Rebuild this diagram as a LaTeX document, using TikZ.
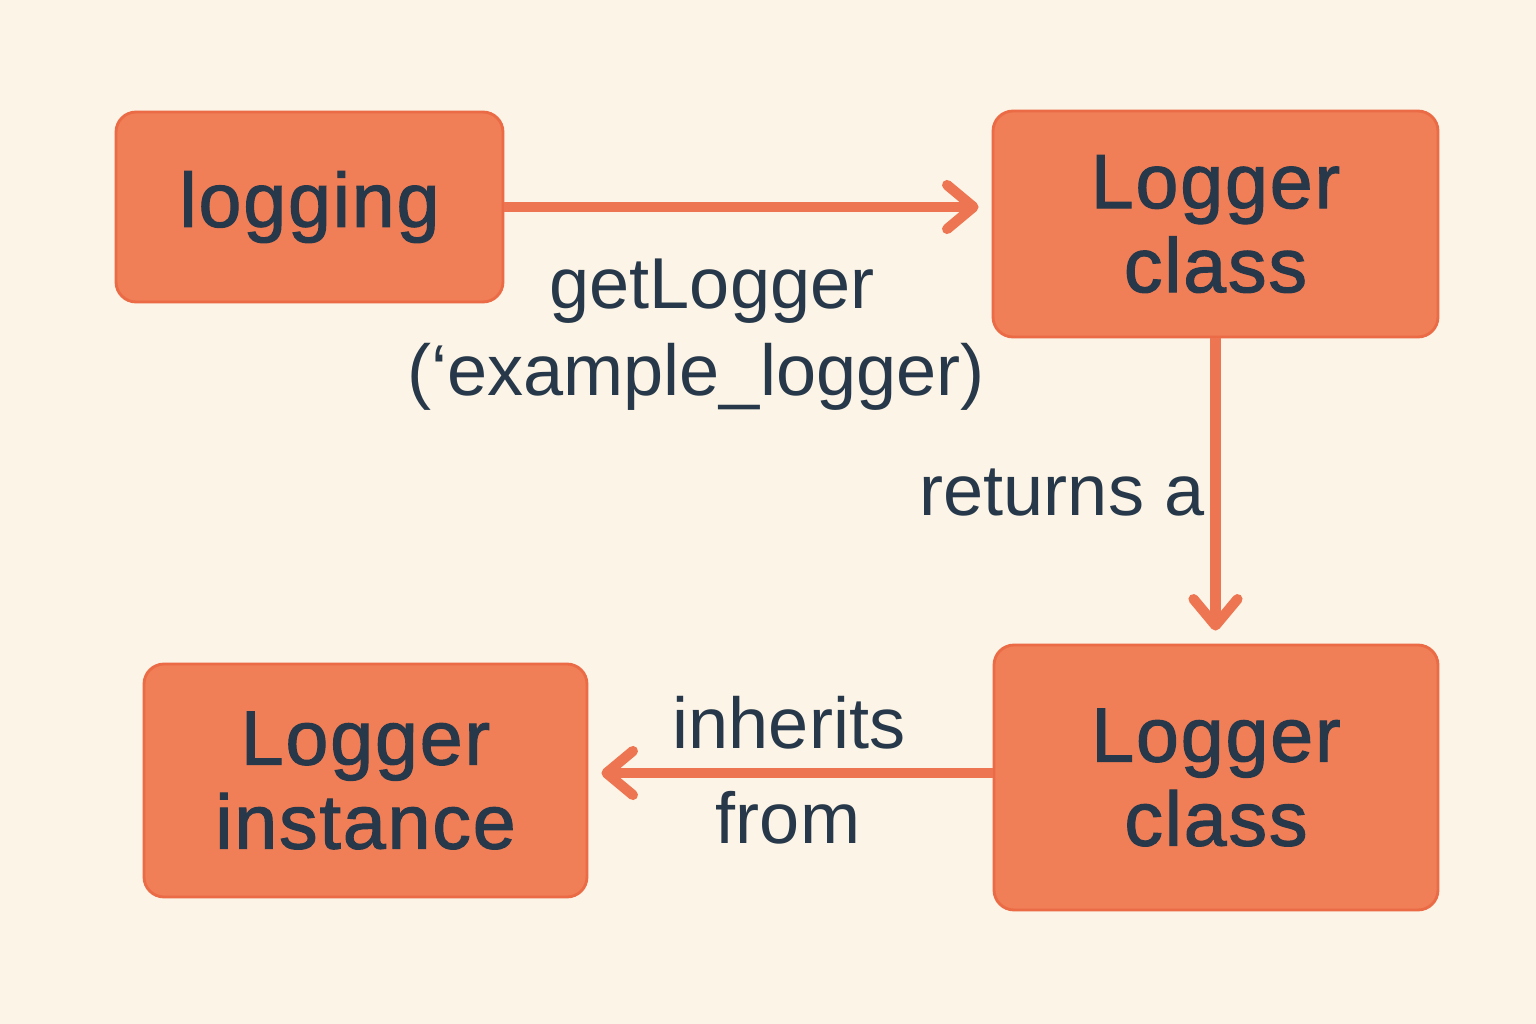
\documentclass[tikz,border=0pt]{standalone}
\usepackage{fontspec}
\setmainfont{Liberation Sans}
\newfontfamily\boxfont{Liberation Sans}[FakeBold=1.5,LetterSpace=2.5]
\usetikzlibrary{arrows.meta,calc}
\definecolor{bg}{HTML}{FCF4E6}
\definecolor{boxfill}{HTML}{F07E56}
\definecolor{boxline}{HTML}{EA6B45}
\definecolor{ink}{HTML}{263849}
\definecolor{arrowc}{HTML}{EE7552}
\begin{document}
\begin{tikzpicture}[x=0.01cm,y=-0.01cm,
  box/.style={draw=boxline, line width=0.8pt, fill=boxfill, rounded corners=0.2cm,
    inner sep=0pt, align=center, text=ink,
    font=\boxfont\fontsize{21.9pt}{23.9pt}\selectfont},
  lbl/.style={text=ink, inner sep=0pt, anchor=base,
    font=\fontsize{20.5pt}{24pt}\selectfont},
  conn/.style={draw=arrowc, line width=2.9pt, shorten >=13*0.01cm,
    -{Straight Barb[length=7.5pt,width=12.5pt,line cap=round,line join=round]}}]
\useasboundingbox[fill=bg] (0,0) rectangle (1536,1024);
\node[box, minimum width=387*0.01cm, minimum height=190*0.01cm] (lg) at (309.5,207) {logging};
\node[box, minimum width=445*0.01cm, minimum height=226*0.01cm] (lc1) at (1215.5,224) {Logger\\class};
\node[box, minimum width=444*0.01cm, minimum height=265*0.01cm] (lc2) at (1216,777.5) {Logger\\class};
\node[box, minimum width=443*0.01cm, minimum height=233*0.01cm] (inst) at (365.5,780.5) {Logger\\instance};
\draw[conn] (lg.east) -- (lg.east -| lc1.west);
\draw[conn] (lc1.south) -- (lc1.south |- lc2.north);
\draw[conn] ($(lc2.west)+(0,-4.5)$) -- ($(lc2.west -| inst.east)+(0,-4.5)$);
\node[lbl] (l1) at (712,308) {getLogger};
\node[lbl] (l2) at (696,395) {(‘example\_logger)};
\node[lbl] (l3) at (1062,515) {returns a};
\node[lbl] (l4) at (789,748) {inherits};
\node[lbl] (l5) at (788,843) {from};
\end{tikzpicture}
\end{document}
